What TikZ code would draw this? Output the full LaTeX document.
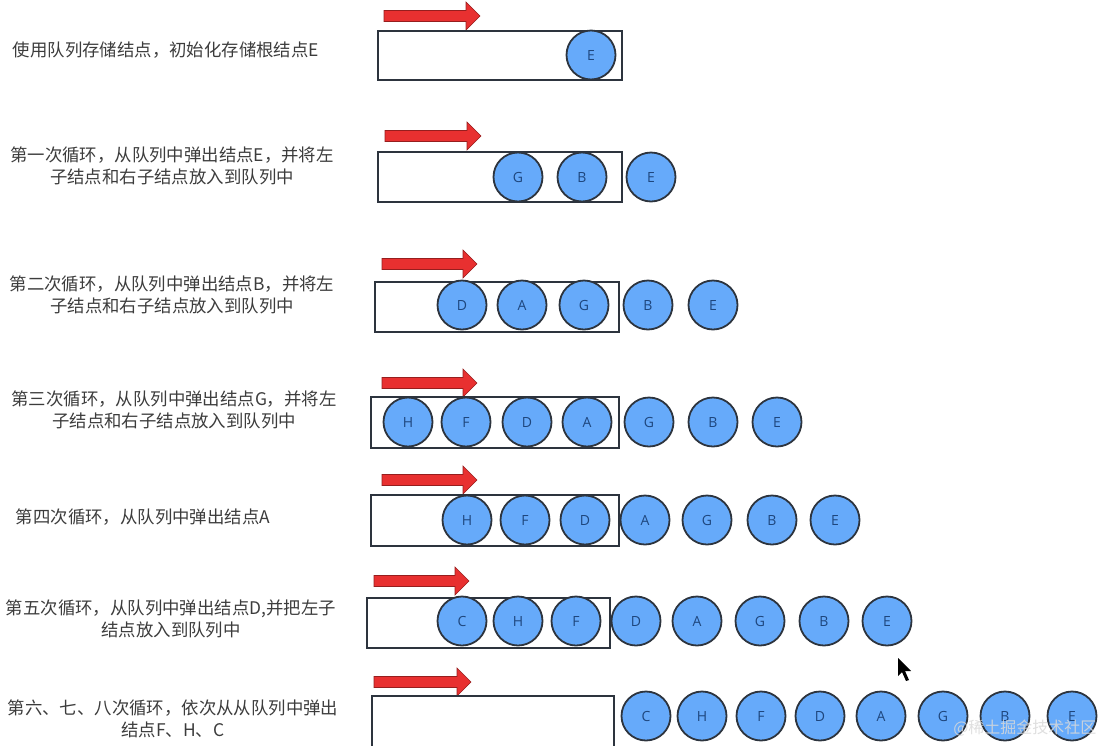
\documentclass[tikz,border=0pt]{standalone}
\usepackage{fontspec}
\newfontfamily\cjk{Noto Sans CJK SC}
\newfontfamily\latinsans{Open Sans}
\definecolor{qfill}{RGB}{102,170,250}
\definecolor{qedge}{RGB}{45,52,62}
\definecolor{qletter}{RGB}{30,70,125}
\definecolor{txtgray}{RGB}{60,60,60}
\definecolor{arrred}{RGB}{232,48,48}
\definecolor{arredge}{RGB}{150,30,30}
\tikzset{
  qn/.style={circle, draw=qedge, line width=1.8pt, fill=qfill, minimum size=49pt, inner sep=0pt,
    font=\latinsans\fontsize{14}{14}\selectfont, text=qletter},
  queuebox/.style={draw=qedge, line width=1.8pt, fill=white, inner sep=0pt},
  lbl/.style={font=\cjk\fontsize{17.4}{21.5}\selectfont, text=txtgray, align=center, inner sep=0pt},
}
\newcommand\qrect[5]{\node[queuebox, minimum width={#4-#2}, minimum height={#5-#3}, anchor=north west] (#1) at (#2,#3) {};}
\newcommand\redarrow[4]{%
  \filldraw[fill=arrred, draw=arredge, line width=0.6pt]
    (#2,{#4-5.5}) -- ({#3-14},{#4-5.5}) -- ({#3-14},{#4-14}) -- (#3,#4) coordinate (#1)
    -- ({#3-14},{#4+14}) -- ({#3-14},{#4+5.5}) -- (#2,{#4+5.5}) -- cycle;}
\begin{document}
\begin{tikzpicture}[x=1pt,y=-1pt]
\useasboundingbox (0,0) rectangle (1105,745);
% ---------- labels ----------
\node[lbl] (t1) at (166,50) {使用队列存储结点，初始化存储根结点E};
\node[lbl] (t2) at (172,166) {第一次循环，从队列中弹出结点E，并将左\\子结点和右子结点放入到队列中};
\node[lbl] (t3) at (172,295) {第二次循环，从队列中弹出结点B，并将左\\子结点和右子结点放入到队列中};
\node[lbl] (t4) at (174,410) {第三次循环，从队列中弹出结点G，并将左\\子结点和右子结点放入到队列中};
\node[lbl] (t5) at (143,517) {第四次循环，从队列中弹出结点A};
\node[lbl] (t6) at (171,619) {第五次循环，从队列中弹出结点D,并把左子\\结点放入到队列中};
\node[lbl] (t7) at (173,719) {第六、七、八次循环，依次从从队列中弹出\\结点F、H、C};
% ---------- row 1 ----------
\redarrow{a1}{384}{480}{16}
\qrect{q1}{377}{30}{621}{79}
\node[qn] (r1E) at (591,55) {E};
% ---------- row 2 ----------
\redarrow{a2}{385}{481}{136}
\qrect{q2}{377}{151}{621}{201}
\node[qn] (r2G) at (518,177) {G};
\node[qn] (r2B) at (582,177) {B};
\node[qn] (r2E) at (651,177) {E};
% ---------- row 3 ----------
\redarrow{a3}{382}{477}{264}
\qrect{q3}{374}{281}{618}{331}
\node[qn] (r3D) at (462,305) {D};
\node[qn] (r3A) at (522,305) {A};
\node[qn] (r3G) at (584,305) {G};
\node[qn] (r3B) at (648,305) {B};
\node[qn] (r3E) at (713,305) {E};
% ---------- row 4 ----------
\redarrow{a4}{382}{477}{383}
\qrect{q4}{370}{396}{618}{447}
\node[qn] (r4H) at (408,422) {H};
\node[qn] (r4F) at (466,422) {F};
\node[qn] (r4D) at (527,422) {D};
\node[qn] (r4A) at (587,422) {A};
\node[qn] (r4G) at (649,422) {G};
\node[qn] (r4B) at (713,422) {B};
\node[qn] (r4E) at (777,422) {E};
% ---------- row 5 ----------
\redarrow{a5}{382}{477}{480}
\qrect{q5}{370}{494}{618}{545}
\node[qn] (r5H) at (467,520) {H};
\node[qn] (r5F) at (525,520) {F};
\node[qn] (r5D) at (585,520) {D};
\node[qn] (r5A) at (645,520) {A};
\node[qn] (r5G) at (707,520) {G};
\node[qn] (r5B) at (772,520) {B};
\node[qn] (r5E) at (835,520) {E};
% ---------- row 6 ----------
\redarrow{a6}{374}{469}{581}
\qrect{q6}{366}{597}{609}{647}
\node[qn] (r6C) at (462,621) {C};
\node[qn] (r6H) at (518,621) {H};
\node[qn] (r6F) at (576,621) {F};
\node[qn] (r6D) at (636,621) {D};
\node[qn] (r6A) at (697,621) {A};
\node[qn] (r6G) at (760,621) {G};
\node[qn] (r6B) at (824,621) {B};
\node[qn] (r6E) at (887,621) {E};
% ---------- row 7 ----------
\redarrow{a7}{374}{471}{682}
\qrect{q7}{371}{695}{613}{750}
\node[qn] (r7C) at (646,716) {C};
\node[qn] (r7H) at (702,716) {H};
\node[qn] (r7F) at (761,716) {F};
\node[qn] (r7D) at (820,716) {D};
\node[qn] (r7A) at (881,716) {A};
\node[qn] (r7G) at (943,716) {G};
\node[qn] (r7B) at (1005,716) {B};
\node[qn] (r7E) at (1072,716) {E};
% ---------- mouse cursor ----------
\fill[black] (898,658) -- (898,676) -- (902,672) -- (906,681) -- (909,680) -- (905,671) -- (911,671) -- cycle;
% ---------- watermark ----------
\node[font=\cjk\fontsize{16}{16}\selectfont, text=white!70!gray, text opacity=0.85, anchor=east] (wm) at (1100,728) {@稀土掘金技术社区};
\end{tikzpicture}
\end{document}
